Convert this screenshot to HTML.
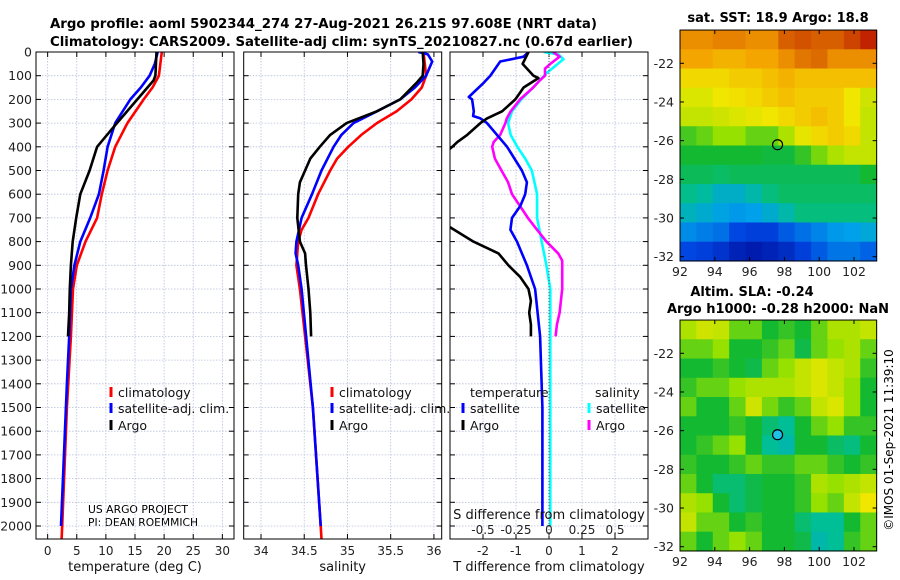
<!DOCTYPE html>
<html><head><meta charset="utf-8"><style>
html,body{margin:0;padding:0;background:#fff;}
svg{display:block;font-family:"DejaVu Sans","Liberation Sans",sans-serif;}
</style></head><body>
<svg id="fig" width="900" height="580" viewBox="0 0 900 580" xmlns="http://www.w3.org/2000/svg">
<text x="50" y="28" font-size="13" font-weight="bold" textLength="547" lengthAdjust="spacingAndGlyphs">Argo profile: aoml 5902344_274 27-Aug-2021 26.21S 97.608E (NRT data)</text>
<text x="50" y="46" font-size="13" font-weight="bold" textLength="583" lengthAdjust="spacingAndGlyphs">Climatology: CARS2009. Satellite-adj clim: synTS_20210827.nc (0.67d earlier)</text>
<text x="778" y="22" font-size="13" font-weight="bold" text-anchor="middle">sat. SST: 18.9 Argo: 18.8</text>
<text x="752" y="296" font-size="13" font-weight="bold" text-anchor="middle">Altim. SLA: -0.24</text>
<text x="778" y="313" font-size="13" font-weight="bold" text-anchor="middle">Argo h1000: -0.28 h2000: NaN</text>
<text x="0" y="0" font-size="12" text-anchor="middle" transform="translate(893,440) rotate(-90)">©IMOS 01-Sep-2021 11:39:10</text>
<text x="88" y="513" font-size="11" textLength="100" lengthAdjust="spacingAndGlyphs">US ARGO PROJECT</text>
<text x="88" y="526" font-size="11" textLength="110" lengthAdjust="spacingAndGlyphs">PI: DEAN ROEMMICH</text>
</svg>
<script>
// ---- data ----
const depthTicks = [0,100,200,300,400,500,600,700,800,900,1000,1100,1200,1300,1400,1500,1600,1700,1800,1900,2000];
const tTicks = [0,5,10,15,20,25,30];
const sTicks = [34,34.5,35,35.5,36];
const dTTicks = [-2,-1,0,1,2];
const dSTicks = [-0.5,-0.25,0,0.25,0.5];
const dSTickLabels = ["-0.5","-0.25","0","0.25","0.5"];

const climTDepth = [0,100,150,200,300,400,500,600,700,800,900,1000,1200,1500,2000,2055];
const climT = [19.6,19.1,18,16.5,13.7,11.6,10.3,9.3,8.5,6.5,5,4.35,4.0,3.3,2.5,2.4];
const satTDepth = [0,50,100,150,200,300,400,500,600,700,800,900,1000,1200,1400,2000];
const satT = [18.9,18.4,17.5,16,14.2,11.6,10.3,9.6,8.8,7.3,5.6,4.6,4.0,3.7,3.3,2.3];
const argoTDepth = [0,100,120,200,300,350,400,500,600,700,800,900,1000,1100,1200];
const argoT = [18.7,18.5,18.2,15.4,11.9,10.2,8.5,7.2,5.6,4.9,4.3,4.0,3.8,3.7,3.5];

const climSDepth = [0,100,150,200,250,300,350,400,450,500,600,700,750,800,900,1000,1500,2000,2055];
const climS = [35.88,35.91,35.86,35.74,35.57,35.34,35.16,35.01,34.88,34.80,34.66,34.55,34.47,34.43,34.41,34.45,34.6,34.69,34.7];
const satSDepth = [0,10,40,100,150,200,250,300,350,400,500,600,700,800,850,900,1000,1500,2000];
const satS = [35.82,35.93,35.98,35.91,35.78,35.61,35.34,35.07,34.93,34.84,34.70,34.59,34.47,34.41,34.40,34.43,34.47,34.6,34.69];
const argoSDepth = [0,50,100,130,200,250,300,350,400,450,500,550,600,700,800,850,900,1000,1100,1200];
const argoS = [35.87,35.88,35.87,35.80,35.61,35.34,34.99,34.80,34.68,34.57,34.51,34.45,34.43,34.42,34.45,34.51,34.52,34.55,34.57,34.58];

const dTSatDepth = [0,20,40,100,130,190,200,250,270,280,300,400,500,550,600,650,700,750,800,900,1000,1200,1500,2000];
const dTSat = [-0.62,-0.77,-1.48,-1.78,-1.98,-2.43,-2.33,-2.28,-2.3,-2.08,-1.88,-1.27,-0.82,-0.67,-0.72,-0.87,-1.12,-1.17,-0.97,-0.67,-0.42,-0.27,-0.2,-0.2];
const dTArgoDepth = [0,50,100,110,150,180,200,250,280,300,350,380,400,420,500,600,700,741,800,850,900,950,1000,1050,1100,1150,1200];
const dTArgo = [-0.62,-0.8,-0.47,-0.32,-0.77,-0.92,-1.02,-1.42,-1.88,-2.08,-2.48,-2.78,-2.93,-3.1,-3.6,-3.8,-3.5,-2.98,-2.29,-1.53,-1.23,-0.87,-0.62,-0.55,-0.6,-0.55,-0.55];
const dSSatDepth = [0,10,30,60,90,150,200,250,300,350,400,450,500,600,700,800,900,1000,1200,2000];
const dSSat = [-0.04,0.07,0.11,0.045,-0.02,-0.12,-0.21,-0.28,-0.31,-0.29,-0.24,-0.18,-0.13,-0.09,-0.09,-0.055,-0.02,0.01,0.01,0.01];
const dSArgoDepth = [0,20,50,70,100,120,150,170,200,250,280,300,350,380,400,450,500,550,600,650,700,750,800,850,880,900,1000,1100,1150,1200];
const dSArgo = [0.03,0.08,0.01,-0.03,-0.03,-0.07,-0.12,-0.16,-0.22,-0.29,-0.32,-0.33,-0.37,-0.42,-0.43,-0.41,-0.36,-0.31,-0.28,-0.22,-0.16,-0.09,-0.02,0.07,0.10,0.10,0.10,0.08,0.06,0.05];

const lonTicks = [92,94,96,98,100,102];
const latTicks = [-22,-24,-26,-28,-30,-32];
const sstGrid = [
[0.8,0.8,0.82,0.82,0.8,0.8,0.88,0.9,0.88,0.88,0.92,0.97],
[0.76,0.76,0.74,0.74,0.76,0.76,0.8,0.84,0.86,0.8,0.8,0.8],
[0.68,0.68,0.68,0.7,0.7,0.72,0.74,0.72,0.72,0.72,0.72,0.72],
[0.64,0.64,0.66,0.67,0.68,0.7,0.72,0.7,0.7,0.7,0.66,0.63],
[0.62,0.62,0.63,0.64,0.65,0.66,0.68,0.7,0.72,0.7,0.66,0.62],
[0.53,0.55,0.58,0.58,0.55,0.55,0.6,0.65,0.68,0.7,0.68,0.62],
[0.5,0.5,0.5,0.5,0.5,0.49,0.49,0.52,0.56,0.6,0.62,0.62],
[0.47,0.47,0.46,0.47,0.47,0.47,0.47,0.47,0.47,0.47,0.47,0.5],
[0.43,0.41,0.37,0.37,0.4,0.44,0.46,0.46,0.46,0.46,0.46,0.46],
[0.38,0.36,0.34,0.32,0.33,0.36,0.4,0.44,0.44,0.44,0.44,0.44],
[0.3,0.28,0.26,0.2,0.18,0.18,0.23,0.26,0.29,0.32,0.33,0.35],
[0.2,0.18,0.15,0.1,0.08,0.1,0.13,0.18,0.23,0.27,0.27,0.24]];
const slaGrid = [
[0.6,0.63,0.62,0.55,0.55,0.5,0.52,0.5,0.55,0.6,0.6,0.62],
[0.55,0.55,0.58,0.5,0.5,0.52,0.55,0.48,0.55,0.58,0.6,0.55],
[0.5,0.5,0.52,0.5,0.48,0.55,0.58,0.62,0.64,0.62,0.6,0.52],
[0.52,0.55,0.55,0.58,0.6,0.6,0.6,0.62,0.64,0.62,0.58,0.5],
[0.55,0.5,0.5,0.55,0.63,0.56,0.52,0.55,0.62,0.64,0.58,0.5],
[0.5,0.5,0.5,0.52,0.5,0.45,0.42,0.5,0.55,0.58,0.52,0.52],
[0.5,0.52,0.55,0.58,0.5,0.42,0.4,0.5,0.5,0.46,0.44,0.5],
[0.52,0.5,0.5,0.52,0.55,0.52,0.52,0.55,0.55,0.52,0.5,0.52],
[0.55,0.5,0.45,0.45,0.48,0.5,0.5,0.52,0.6,0.58,0.6,0.62],
[0.6,0.58,0.5,0.45,0.48,0.5,0.5,0.52,0.58,0.55,0.62,0.66],
[0.62,0.55,0.55,0.5,0.52,0.5,0.5,0.45,0.42,0.42,0.5,0.55],
[0.55,0.5,0.55,0.58,0.55,0.5,0.5,0.48,0.4,0.42,0.52,0.55]];
const argoLon = 97.608, argoLat = -26.21;

// ---- helpers ----
const NS = "http://www.w3.org/2000/svg";
const svg = document.getElementById('fig');
function mk(tag, attrs, parent){const e=document.createElementNS(NS,tag);for(const k in attrs)e.setAttribute(k,attrs[k]);(parent||svg).appendChild(e);return e;}
const TOP=52, BOT=539;
const yD = d => TOP + d*0.237;

const panels = [
 {name:'temperature', x0:36, x1:234, lo:-2, hi:32, ticks:tTicks, labels:tTicks.map(String), title:'temperature (deg C)'},
 {name:'salinity', x0:243.7, x1:441.7, lo:33.8, hi:36.09, ticks:sTicks, labels:sTicks.map(String), title:'salinity'},
 {name:'difference', x0:450, x1:648, lo:-3, hi:3, ticks:dTTicks, labels:dTTicks.map(String), title:'T difference from climatology'}
];
panels.forEach((p,i)=>{
  p.sx = v => p.x0 + (v-p.lo)/(p.hi-p.lo)*(p.x1-p.x0);
  const g = mk('g',{});
  
  
  const cp = mk('clipPath',{id:'clip'+i}, g);
  mk('rect',{x:p.x0,y:TOP,width:p.x1-p.x0,height:BOT-TOP},cp);
  depthTicks.forEach(d=>{
    const l=mk('line',{x1:p.x0,x2:p.x1,y1:yD(d),y2:yD(d),stroke:'#b8c0dc','stroke-width':0.8,'stroke-dasharray':'1.5,1.5'},g);
    
    
    mk('line',{x1:p.x0,x2:p.x0+5,y1:yD(d),y2:yD(d),stroke:'#000'},g);
    mk('line',{x1:p.x1-5,x2:p.x1,y1:yD(d),y2:yD(d),stroke:'#000'},g);
  });
  p.ticks.forEach((t,k)=>{
    const x=p.sx(t);
    const l=mk('line',{x1:x,x2:x,y1:TOP,y2:BOT,stroke:'#b8c0dc','stroke-width':0.8,'stroke-dasharray':'1.5,1.5'},g);
    
    
    mk('line',{x1:x,x2:x,y1:BOT,y2:BOT-5,stroke:'#000'},g);
    mk('line',{x1:x,x2:x,y1:TOP,y2:TOP+5,stroke:'#000'},g);
    const tx=mk('text',{x:x,y:555,'font-size':12,'text-anchor':'middle',fill:'#222'},g);
    tx.textContent=p.labels[k];
    
    
  });
  const tt=mk('text',{x:(p.x0+p.x1)/2,y:571,'font-size':13,'text-anchor':'middle',fill:'#111'},g);
  tt.textContent=p.title;
  
  
  p.g=g;
});
// depth labels
depthTicks.forEach(d=>{
  const t=mk('text',{x:32,y:yD(d)+4.5,'font-size':12.5,'text-anchor':'end',fill:'#222'});
  t.textContent=String(d);
  
  
});
// zero line panel3
const p3=panels[2];
const zl=mk('line',{x1:p3.sx(0),x2:p3.sx(0),y1:TOP,y2:BOT,stroke:'#555','stroke-width':1,'stroke-dasharray':'1,2'});



function line(p,idx,xs,ds,color,name,sc){
  const f = sc||p.sx;
  const pts = xs.map((v,i)=>f(v).toFixed(1)+','+yD(ds[i]).toFixed(1)).join(' ');
  const l=mk('polyline',{points:pts,fill:'none',stroke:color,'stroke-width':2.6,'stroke-linejoin':'round','clip-path':'url(#clip'+idx+')'},p.g);
  
  
}
line(panels[0],0,climT,climTDepth,'#ff0000','climatology-temperature-line');
line(panels[0],0,satT,satTDepth,'#0000ff','satellite-temperature-line');
line(panels[0],0,argoT,argoTDepth,'#000','argo-temperature-line');
line(panels[1],1,climS,climSDepth,'#ff0000','climatology-salinity-line');
line(panels[1],1,satS,satSDepth,'#0000ff','satellite-salinity-line');
line(panels[1],1,argoS,argoSDepth,'#000','argo-salinity-line');
const sS = v => p3.sx(v*4);
line(p3,2,dSSat,dSSatDepth,'#00ffff','satellite-salinity-diff-line',sS);
line(p3,2,dSArgo,dSArgoDepth,'#ff00ff','argo-salinity-diff-line',sS);
line(p3,2,dTSat,dTSatDepth,'#0000ff','satellite-temperature-diff-line');
line(p3,2,dTArgo,dTArgoDepth,'#000','argo-temperature-diff-line');

// S diff axis inside panel 3
const sdt=mk('text',{x:p3.sx(0),y:519,'font-size':13,'text-anchor':'middle',fill:'#111'});
sdt.textContent='S difference from climatology';


dSTicks.forEach((v,k)=>{
  const t=mk('text',{x:sS(v),y:534,'font-size':12,'text-anchor':'middle',fill:'#222'});
  t.textContent=dSTickLabels[k];
  
  
});
// borders
panels.forEach(p=>{
  const r=mk('rect',{x:p.x0,y:TOP,width:p.x1-p.x0,height:BOT-TOP,fill:'none',stroke:'#000','stroke-width':1});
  
  
});
// legends
function legend(x,y,color,label,name){
  const m=mk('line',{x1:x,x2:x,y1:y-10,y2:y,stroke:color,'stroke-width':3});
  
  
  const t=mk('text',{x:x+7,y:y,'font-size':12.5,fill:'#111'});
  t.textContent=label;
  
  
}
legend(111,397,'#ff0000','climatology','legend-climatology-t');
legend(111,413,'#0000ff','satellite-adj. clim.','legend-satellite-t');
legend(111,430,'#000','Argo','legend-argo-t');
legend(332,397,'#ff0000','climatology','legend-climatology-s');
legend(332,413,'#0000ff','satellite-adj. clim.','legend-satellite-s');
legend(332,430,'#000','Argo','legend-argo-s');
const lt1=mk('text',{x:470,y:397,'font-size':12.5,fill:'#111'});lt1.textContent='temperature';


const lt2=mk('text',{x:595,y:397,'font-size':12.5,fill:'#111'});lt2.textContent='salinity';


legend(463,413,'#0000ff','satellite','legend-satellite-dt');
legend(463,430,'#000','Argo','legend-argo-dt');
legend(589,413,'#00ffff','satellite','legend-satellite-ds');
legend(589,430,'#ff00ff','Argo','legend-argo-ds');

// ---- maps ----
const cmapStops = [[0,[0,0,140]],[0.2,[0,70,225]],[0.33,[0,160,235]],[0.42,[0,190,150]],[0.5,[20,185,50]],[0.58,[150,225,0]],[0.66,[240,230,0]],[0.76,[245,165,0]],[0.88,[215,95,0]],[1,[185,15,0]]];
function cmap(v){
  v=Math.max(0,Math.min(1,v));
  for(let i=1;i<cmapStops.length;i++){
    const [a,ca]=cmapStops[i-1],[b,cb]=cmapStops[i];
    if(v<=b){const f=(v-a)/(b-a);const c=ca.map((x,k)=>Math.round(x+(cb[k]-x)*f));return 'rgb('+c.join(',')+')';}
  }
  return 'rgb(185,15,0)';
}
const LON0=92, LON1=103.3, LATT=-20.28, LATB=-32.22;
function drawMap(grid, y0ref, name, marker){
  const g=mk('g',{});
  
  
  const lx = l => 680 + (l-92)*17.4;
  const ly = la => y0ref + (-22-la)*19.34;
  const nr=grid.length, nc=grid[0].length;
  const dLat=(LATT-LATB)/nr, dLon=(LON1-LON0)/nc;
  grid.forEach((row,i)=>row.forEach((v,j)=>{
    const x=lx(LON0+j*dLon), y=ly(LATT-i*dLat);
    const r=mk('rect',{x:x.toFixed(2),y:y.toFixed(2),width:(dLon*17.4+0.6).toFixed(2),height:(dLat*19.34+0.6).toFixed(2),fill:cmap(v)},g);
    
    
  }));
  const top=ly(LATT), bot=ly(LATB);
  mk('rect',{x:680,y:top,width:lx(LON1)-680,height:bot-top,fill:'none',stroke:'#000'},g);
  lonTicks.forEach(l=>{
    const x=lx(l);
    mk('line',{x1:x,x2:x,y1:bot,y2:bot-4,stroke:'#000'},g);
    mk('line',{x1:x,x2:x,y1:top,y2:top+4,stroke:'#000'},g);
    const t=mk('text',{x:x,y:bot+15,'font-size':12.5,'text-anchor':'middle',fill:'#222'},g);
    t.textContent=String(l);
    
    
  });
  latTicks.forEach(la=>{
    const y=ly(la);
    mk('line',{x1:680,x2:684,y1:y,y2:y,stroke:'#000'},g);
    mk('line',{x1:lx(LON1)-4,x2:lx(LON1),y1:y,y2:y,stroke:'#000'},g);
    const t=mk('text',{x:674,y:y+4.5,'font-size':12.5,'text-anchor':'end',fill:'#222'},g);
    t.textContent=String(la);
    
    
  });
  const c=mk('circle',{cx:lx(argoLon),cy:ly(argoLat),r:5,fill:marker,stroke:'#000','stroke-width':1.2},g);
  
  
}
drawMap(sstGrid, 63.3, 'sst-map', 'none');
drawMap(slaGrid, 353.3, 'sla-map', '#20c0e8');
</script>
</body></html>
